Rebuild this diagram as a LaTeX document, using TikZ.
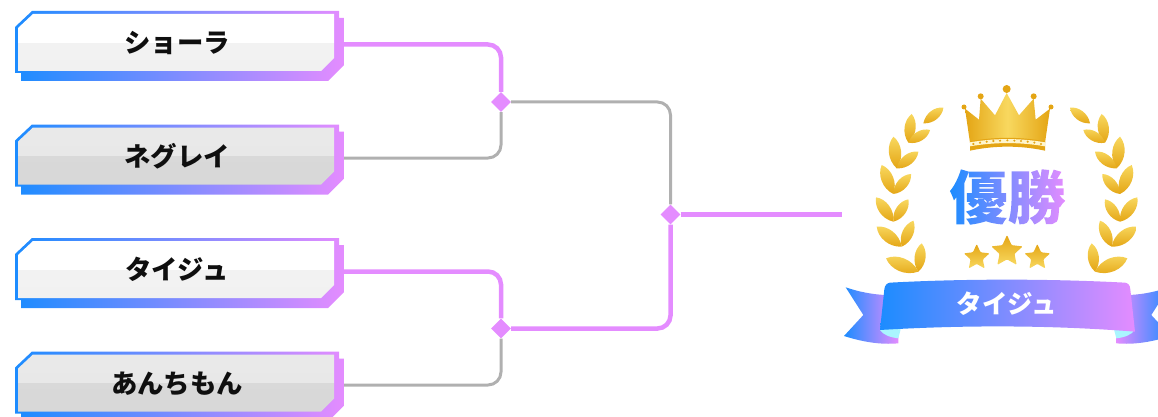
\documentclass[tikz,border=0pt]{standalone}
\usepackage{fontspec}
\newfontfamily\jpfont{Noto Sans CJK JP}
\usepackage{xcolor}
\definecolor{winblue}{RGB}{ 28, 140, 255}
\definecolor{winpink}{RGB}{228, 140, 255}
\definecolor{losegray}{RGB}{176, 176, 176}
\definecolor{goldlight}{RGB}{248, 216,  95}
\definecolor{golddark}{RGB}{228, 165,  20}
\definecolor{goldcream}{RGB}{255, 246, 205}
\definecolor{foldcyan}{RGB}{170, 245, 255}
\definecolor{inklabel}{RGB}{ 15,  15,  15}
\usetikzlibrary{shapes.geometric, calc}
\pgfdeclareverticalshading{cardlight}{100bp}{color(0bp)=(black!6); color(50bp)=(black!5); color(50bp)=(white); color(100bp)=(white)}
\pgfdeclareverticalshading{carddark}{100bp}{color(0bp)=(black!16); color(50bp)=(black!15); color(50bp)=(black!9); color(100bp)=(black!8)}
\tikzset{
  cardframe/.style={left color=winblue, right color=winpink},
  cardlabel/.style={minimum width=334pt, inner sep=0pt, text=inklabel,
    text height=22pt, text depth=6pt,
    font=\jpfont\bfseries\fontsize{26.4}{28}\selectfont},
  winline/.style={line width=4.5pt, color=winpink, rounded corners=13pt},
  loseline/.style={line width=3pt, color=losegray, rounded corners=13pt},
  joint/.style={shape=diamond, fill=winpink, inner sep=0pt, minimum width=20pt, minimum height=20pt},
  goldleaf/.style={top color=goldlight, bottom color=golddark},
  goldstar/.style={shape=star, star points=5, star point ratio=2.1, inner sep=0pt,
    rounded corners=1pt, top color=golddark, bottom color=goldlight},
  ribbonband/.style={left color=winblue, right color=winpink}
}
\newcommand{\laurelleaf}[2]{
  \shade[goldleaf] (#1) .. controls ($(#1)!.4!42:(#2)$) and ($(#1)!.8!18:(#2)$) .. (#2)
    .. controls ($(#1)!.8!-18:(#2)$) and ($(#1)!.4!-42:(#2)$) .. (#1) -- cycle;
}
\newcommand{\gradienttext}[1]{%
  \special{pdf:code q 7 Tr}#1\special{pdf:code 0 Tr}%
  \smash{\llap{\raisebox{-14pt}{\tikz\shade[left color=winblue, right color=winpink] (0pt,0pt) rectangle (116pt,70pt);}}}%
  \special{pdf:code Q}}
\begin{document}
\begin{tikzpicture}[x=1pt, y=-1pt]

  \useasboundingbox (0,0) rectangle (1158,417);
  \clip (0,0) rectangle (1158,417);

  \foreach \cardid/\cardtop/\cardfill/\cardtext in
    {1/11/cardlight/ショーラ, 2/124.5/carddark/ネグレイ,
     3/238/cardlight/タイジュ, 4/351.5/carddark/あんちもん} {
    \begin{scope}[shift={(0,\cardtop-11)}]
      \shade[cardframe] (15,27) -- (32,11) -- (339,11) -- (339,18) -- (344,18) -- (344,65)
        -- (328,81) -- (21,81) -- (21,73) -- (15,73) -- cycle;
      \shade[shading=\cardfill] (18,28) -- (33,14) -- (334,14) -- (334,58) -- (321,71)
        -- (18,71) -- cycle;
      \node[cardlabel] (card\cardid) at (177,44.5) {\cardtext};
    \end{scope}
  }

  \node[joint] (semi1) at (501,102) {};
  \node[joint] (semi2) at (501,328.5) {};
  \node[joint] (final) at (670.5,214.5) {};
  \coordinate (trophyin) at (842,214.5);

  \draw[winline] (card1.east) -| (semi1);
  \draw[loseline] (card2.east) -| (semi1);
  \draw[winline] (card3.east) -| (semi2);
  \draw[loseline] (card4.east) -| (semi2);
  \draw[loseline] (semi1) -| (final);
  \draw[winline] (semi2) -| (final);
  \draw[winline] (final) -- (trophyin);

  \foreach \sidex in {0.3333pt,-0.3333pt} {
    \begin{scope}[shift={(1006.7,70)}, x=\sidex, y=-0.3333pt]
      \laurelleaf{-265,605}{-362,565}
      \laurelleaf{-265,605}{-255,520}
      \laurelleaf{-315,530}{-390,470}
      \laurelleaf{-315,530}{-280,452}
      \laurelleaf{-340,455}{-392,382}
      \laurelleaf{-340,455}{-295,388}
      \laurelleaf{-340,372}{-375,285}
      \laurelleaf{-340,372}{-287,312}
      \laurelleaf{-330,295}{-340,200}
      \laurelleaf{-330,295}{-265,245}
      \laurelleaf{-295,218}{-285,132}
      \laurelleaf{-295,218}{-230,180}
      \laurelleaf{-250,160}{-190,113}
    \end{scope}
  }

  \begin{scope}[shift={(955,78)}, x=0.3333pt, y=-0.3333pt]
    \shade[left color=golddark, right color=golddark, middle color=goldlight]
      (45,195) -- (30,92) -- (72,125) -- (77,62) -- (120,112) -- (155,45) -- (192,112)
      -- (236,62) -- (242,125) -- (285,92) -- (270,195) -- cycle;
    \fill[golddark] (45,190) .. controls (120,176) and (195,176) .. (270,190)
      -- (270,218) .. controls (195,202) and (120,202) .. (45,218) -- cycle;
    \fill[goldcream] (45,193) .. controls (120,180) and (195,180) .. (270,193)
      -- (270,205) .. controls (195,192) and (120,192) .. (45,205) -- cycle;
    \foreach \dotx/\doty in {55/198,75/194,95/191,115/189,135/188,157/187,178/188,198/189,218/191,238/194,258/198}
      \fill[golddark] (\dotx,\doty) circle (3.5);
    \fill[golddark] (27,87) circle (7.5);
    \fill[golddark] (77,55) circle (9);
    \fill[golddark] (155,33) circle (12);
    \fill[golddark] (236,55) circle (9);
    \fill[golddark] (288,87) circle (7.5);
  \end{scope}

  \node[inner sep=0pt, font=\jpfont\bfseries\fontsize{58}{60}\selectfont] (title) at (1007.5,197) {\gradienttext{優勝}};

  \node[goldstar, minimum size=27pt] (star1) at (976.7,257.5) {};
  \node[goldstar, minimum size=33pt] (star2) at (1007,251.5) {};
  \node[goldstar, minimum size=27pt] (star3) at (1037.3,257.5) {};

  \begin{scope}[shift={(830,230)}, x=0.3333pt, y=-0.3333pt]
    \shade[left color=winblue, right color=winpink]
      (47,172) .. controls (85,185) and (125,193) .. (165,195) -- (170,300) -- (205,305) -- (205,340)
      .. controls (150,345) and (95,335) .. (42,318) -- (100,255) -- cycle;
    \shade[left color=winpink, right color=winblue]
      (1017,172) .. controls (979,185) and (939,193) .. (899,195) -- (894,300) -- (859,305) -- (859,340)
      .. controls (914,345) and (969,335) .. (1022,318) -- (964,255) -- cycle;
    \fill[foldcyan] (150,300) .. controls (170,295) and (190,295) .. (212,298) -- (205,325)
      .. controls (180,322) and (160,315) .. (150,300) -- cycle;
    \fill[foldcyan] (914,300) .. controls (894,295) and (874,295) .. (852,298) -- (859,325)
      .. controls (884,322) and (904,315) .. (914,300) -- cycle;
    \shade[ribbonband] (163,178) .. controls (165,165) and (170,160) .. (180,158)
      .. controls (400,146) and (660,146) .. (885,158) .. controls (895,160) and (900,165) .. (901,178)
      -- (915,305) .. controls (660,285) and (400,285) .. (150,300) -- cycle;
    \node[font=\jpfont\bfseries\fontsize{25.5}{27}\selectfont, text=white, inner sep=0pt] (winner) at (530,222) {タイジュ};
  \end{scope}

\end{tikzpicture}
\end{document}
